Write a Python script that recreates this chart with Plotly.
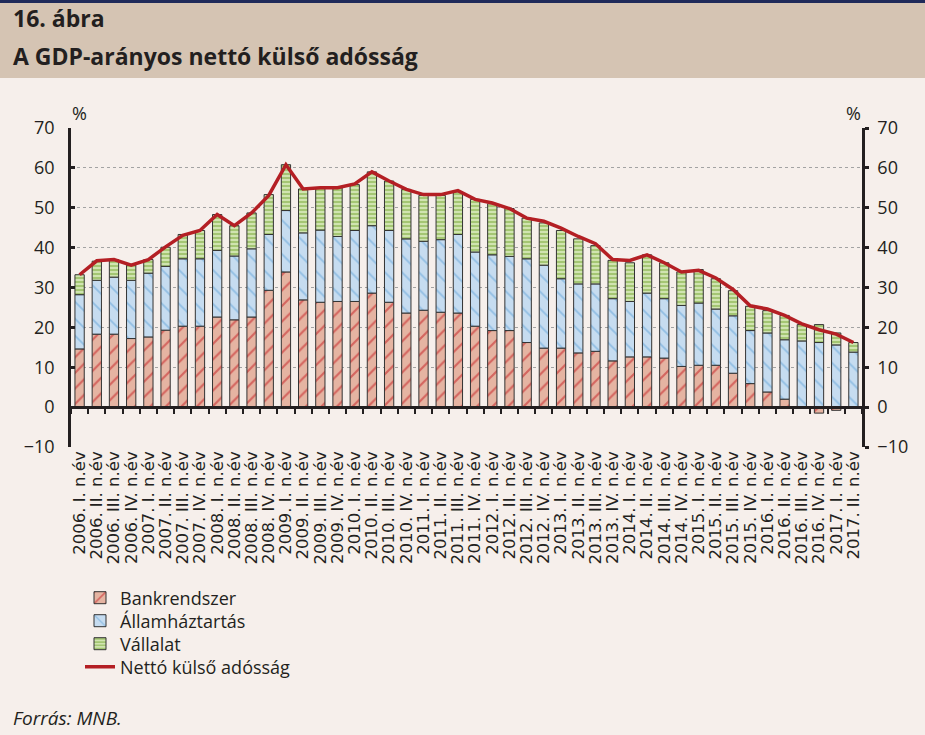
import plotly.graph_objects as go

years = ["2006", "2007", "2008", "2009", "2010", "2011", "2012", "2013", "2014", "2015", "2016", "2017"]
quarters = ["I.", "II.", "III.", "IV."]
categories = [f"{y}. {q} n.év" for y in years for q in quarters][:46]

bankrendszer = [14.6, 18.3, 18.3, 17.2, 17.6, 19.3, 20.3, 20.3, 22.6, 21.9, 22.6, 29.3,
                33.9, 26.9, 26.3, 26.5, 26.5, 28.6, 26.3, 23.6, 24.3, 23.8, 23.6, 20.3,
                19.2, 19.2, 16.2, 14.8, 14.8, 13.6, 14.0, 11.6, 12.6, 12.6, 12.3, 10.2,
                10.5, 10.5, 8.5, 5.9, 3.8, 2.0, -0.3, -1.5, -0.8, 0.1]
allamhaztartas = [13.6, 13.5, 14.3, 14.6, 16.0, 16.0, 16.9, 16.9, 16.7, 16.0, 17.1, 14.0,
                  15.4, 16.8, 18.1, 16.3, 17.8, 16.9, 18.0, 18.6, 17.3, 18.2, 19.7, 18.6,
                  19.0, 18.6, 21.0, 20.8, 17.4, 17.3, 16.9, 15.6, 13.9, 16.0, 14.9, 15.3,
                  15.6, 14.1, 14.4, 13.3, 14.8, 14.9, 16.6, 16.2, 15.6, 13.7]
vallalat = [5.0, 4.8, 4.4, 3.8, 3.4, 4.8, 6.1, 7.1, 9.0, 7.6, 9.0, 10.0,
            11.5, 11.0, 10.6, 12.2, 11.5, 13.5, 12.4, 12.4, 11.5, 11.1, 10.7, 13.2,
            12.8, 12.0, 10.2, 10.6, 12.1, 11.3, 9.6, 9.6, 9.7, 9.6, 9.0, 8.4,
            8.4, 7.6, 6.3, 6.1, 5.6, 6.1, 4.1, 4.5, 3.0, 2.4]
netto = [33.2, 36.7, 37.0, 35.6, 37.0, 40.2, 43.1, 44.3, 48.3, 45.5, 48.7, 53.1,
         60.8, 54.7, 55.0, 55.0, 56.0, 59.0, 56.7, 54.6, 53.3, 53.3, 54.3, 52.1,
         51.2, 49.8, 47.4, 46.6, 44.9, 42.8, 41.0, 37.0, 36.8, 38.2, 36.2, 33.9,
         34.3, 32.4, 29.5, 25.4, 24.6, 23.0, 20.9, 19.4, 18.3, 16.2]

W, H = 925, 735
L, R, T, B = 71, 862, 128, 447  # plot area in pixels


def px(x):
    return (x - L) / (R - L)


def py(y):
    return (B - y) / (B - T)


FONT = "Open Sans"
TXT = "#231f20"
BG = "#f6efeb"

LEG_X = px(80)
legend_rows = [598, 621, 644, 667]


def leg(row):
    return dict(x=LEG_X, y=py(row), xanchor="left", yanchor="middle", bgcolor="rgba(0,0,0,0)",
                font=dict(family=FONT, size=18, color=TXT), itemwidth=30, borderwidth=0)


fig = go.Figure()
fig.add_trace(go.Bar(
    x=categories, y=bankrendszer, name="Bankrendszer", legend="legend",
    marker=dict(color="#e5b4a2", line=dict(color="#333333", width=1),
                pattern=dict(shape="/", fillmode="overlay", fgcolor="#c4161c", size=11, solidity=0.2)),
))
fig.add_trace(go.Bar(
    x=categories, y=allamhaztartas, name="Államháztartás", legend="legend2",
    marker=dict(color="#c6dcf0", line=dict(color="#333333", width=1),
                pattern=dict(shape="\\", fillmode="overlay", fgcolor="#5b9fd6", size=12, solidity=0.15)),
))
fig.add_trace(go.Bar(
    x=categories, y=vallalat, name="Vállalat", legend="legend3",
    marker=dict(color="#d0e4b0", line=dict(color="#333333", width=1),
                pattern=dict(shape="-", fillmode="overlay", fgcolor="#77a836", size=4, solidity=0.5)),
))
fig.add_trace(go.Scatter(
    x=categories, y=netto, name="Nettó külső adósság", mode="lines", legend="legend4",
    line=dict(color="#b41f24", width=3.5), xaxis="x2", yaxis="y2",
))

axis_common = dict(
    range=[-10, 70], dtick=10, tick0=0, gridcolor="#a3a3a3", griddash="dot",
    gridwidth=1, zeroline=False, showline=True, linecolor=TXT, linewidth=2.5,
    tickcolor=TXT, tickwidth=2.5, ticklen=4, tickfont=dict(family=FONT, size=18, color=TXT),
)

fig.update_layout(
    width=W, height=H,
    margin=dict(l=L, r=W - R, t=T, b=H - B, pad=0),
    paper_bgcolor=BG, plot_bgcolor=BG,
    barmode="relative", bargap=0.46,
    font=dict(family=FONT, color=TXT),
    showlegend=True,
    legend=leg(legend_rows[0]),
    legend2=leg(legend_rows[1]),
    legend3=leg(legend_rows[2]),
    legend4=leg(legend_rows[3]),
    xaxis=dict(type="category", showline=False, ticks="", showgrid=False, tickangle=-90,
               tickmode="array", tickvals=categories, ticktext=categories,
               tickfont=dict(family="DejaVu Sans", size=16.5, color=TXT)),
    xaxis2=dict(type="category", overlaying="x", matches="x", anchor="free", position=py(407),
                side="bottom", showline=True, linecolor=TXT, linewidth=2.5, ticks="outside",
                ticklen=5, tickwidth=2, tickcolor=TXT, tickson="boundaries",
                showticklabels=False, showgrid=False),
    yaxis=dict(side="left", ticks="inside", showgrid=True, ticklabelstandoff=10, **axis_common),
    yaxis2=dict(side="right", overlaying="y", matches="y", ticks="outside", anchor="x",
                showgrid=False, ticklabelstandoff=5, **axis_common),
    shapes=[
        dict(type="rect", xref="paper", yref="paper", x0=px(0), x1=px(W), y0=py(78), y1=py(0),
             fillcolor="#d5c4b3", line=dict(width=0), layer="below"),
        dict(type="rect", xref="paper", yref="paper", x0=px(0), x1=px(W), y0=py(3), y1=py(0),
             fillcolor="#1f2a5a", line=dict(width=0), layer="below"),
    ],
    annotations=[
        dict(text="<b>16. ábra</b>", xref="paper", yref="paper", x=px(11), y=py(18),
             xanchor="left", yanchor="middle", showarrow=False,
             font=dict(family=FONT, size=23, color=TXT)),
        dict(text="<b>A GDP-arányos nettó külső adósság</b>", xref="paper", yref="paper",
             x=px(11), y=py(56), xanchor="left", yanchor="middle", showarrow=False,
             font=dict(family=FONT, size=23, color=TXT)),
        dict(text="%", xref="paper", yref="paper", x=px(79), y=py(113), xanchor="center",
             yanchor="middle", showarrow=False, font=dict(family=FONT, size=18, color=TXT)),
        dict(text="%", xref="paper", yref="paper", x=px(853), y=py(113), xanchor="center",
             yanchor="middle", showarrow=False, font=dict(family=FONT, size=18, color=TXT)),
        dict(text="<i>Forrás: MNB.</i>", xref="paper", yref="paper", x=px(11), y=py(718),
             xanchor="left", yanchor="middle", showarrow=False,
             font=dict(family=FONT, size=19, color=TXT)),
    ],
)

fig.write_html("out.html", config={"displayModeBar": False},
               post_script="document.body.style.margin='0';document.body.style.overflow='hidden';")
